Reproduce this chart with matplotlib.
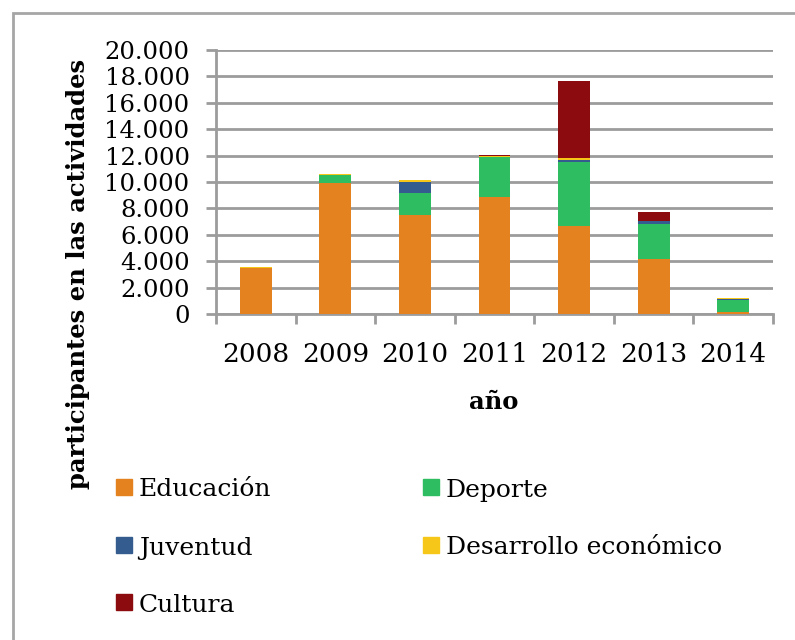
import numpy as np
import matplotlib
matplotlib.use("Agg")
import matplotlib.pyplot as plt
from matplotlib.patches import Rectangle

# ── Data ─────────────────────────────────────────────────────────────────────
years      = ["2008", "2009", "2010", "2011", "2012", "2013", "2014"]
educacion  = [3520, 9900, 7500, 8850, 6650, 4200, 150]
deporte    = [0, 630, 1700, 3050, 4900, 2650, 900]
juventud   = [0, 0, 800, 0, 150, 200, 50]
desarrollo = [60, 70, 150, 100, 100, 0, 120]
cultura    = [0, 0, 0, 80, 5850, 700, 0]

yticks      = [0, 2000, 4000, 6000, 8000, 10000, 12000, 14000, 16000, 18000, 20000]
ytick_labs  = ["0", "2.000", "4.000", "6.000", "8.000", "10.000", "12.000",
               "14.000", "16.000", "18.000", "20.000"]

series = [
    ("Educación", educacion, "#E3821E"),
    ("Deporte", deporte, "#2EBD60"),
    ("Juventud", juventud, "#355C8F"),
    ("Desarrollo económico", desarrollo, "#F6C719"),
    ("Cultura", cultura, "#8C0B0E"),
]

W, H = 795, 640
FONT = "DejaVu Serif"
GRID = "#9c9c9c"

fig = plt.figure(figsize=(W / 100, H / 100), dpi=100, facecolor="white")
ax = fig.add_axes([216 / W, 1 - 314 / H, 557 / W, 264 / H])

x = np.arange(len(years))
bottom = np.zeros(len(years))
for name, vals, col in series:
    vals = np.array(vals, dtype=float)
    ax.bar(x, vals, width=0.4, bottom=bottom, color=col, zorder=3,
           edgecolor="none")
    bottom += vals

ax.set_xlim(-0.5, len(years) - 0.5)
ax.set_ylim(0, 20000)

ax.set_yticks(yticks)
ax.set_yticklabels(ytick_labs, fontfamily=FONT, fontsize=17.5)
ax.set_xticks(x)
ax.set_xticklabels(years, fontfamily=FONT, fontsize=19)
ax.set_xticks(np.arange(-0.5, len(years)), minor=True)

ax.grid(axis="y", color=GRID, linewidth=2, zorder=0)
ax.tick_params(axis="y", length=7, width=2, color=GRID, pad=12)
ax.tick_params(axis="x", which="major", length=0, pad=20)
ax.tick_params(axis="x", which="minor", length=7, width=2, color=GRID)

for side in ["top", "right"]:
    ax.spines[side].set_visible(False)
for side in ["left", "bottom"]:
    ax.spines[side].set_color(GRID)
    ax.spines[side].set_linewidth(2)

fig.text(78 / W, 1 - 274 / H, "participantes en las actividades",
         rotation=90, ha="center", va="center", fontfamily=FONT,
         fontsize=17.5, fontweight="bold")
fig.text(494 / W, 1 - 402 / H, "año", ha="center", va="center",
         fontfamily=FONT, fontsize=17.5, fontweight="bold")

# ── Legend (drawn by hand, two columns) ──────────────────────────────────────
slots = [(116, 487), (423, 487), (116, 545), (423, 545), (116, 602)]
for (name, vals, col), (lx, ly) in zip(series, slots):
    fig.patches.append(Rectangle((lx / W, 1 - (ly + 8) / H), 16 / W, 16 / H,
                                 transform=fig.transFigure, color=col))
    fig.text((lx + 23) / W, 1 - (ly + 3) / H, name, ha="left", va="center",
             fontfamily=FONT, fontsize=18)

# outer frame
fig.patches.append(Rectangle((12.5 / W, -0.1), 1.2, 1 - 13 / H + 0.1,
                             transform=fig.transFigure, fill=False,
                             edgecolor="#a6a6a6", linewidth=2))

fig.savefig("out.png", dpi=100, facecolor="white")
